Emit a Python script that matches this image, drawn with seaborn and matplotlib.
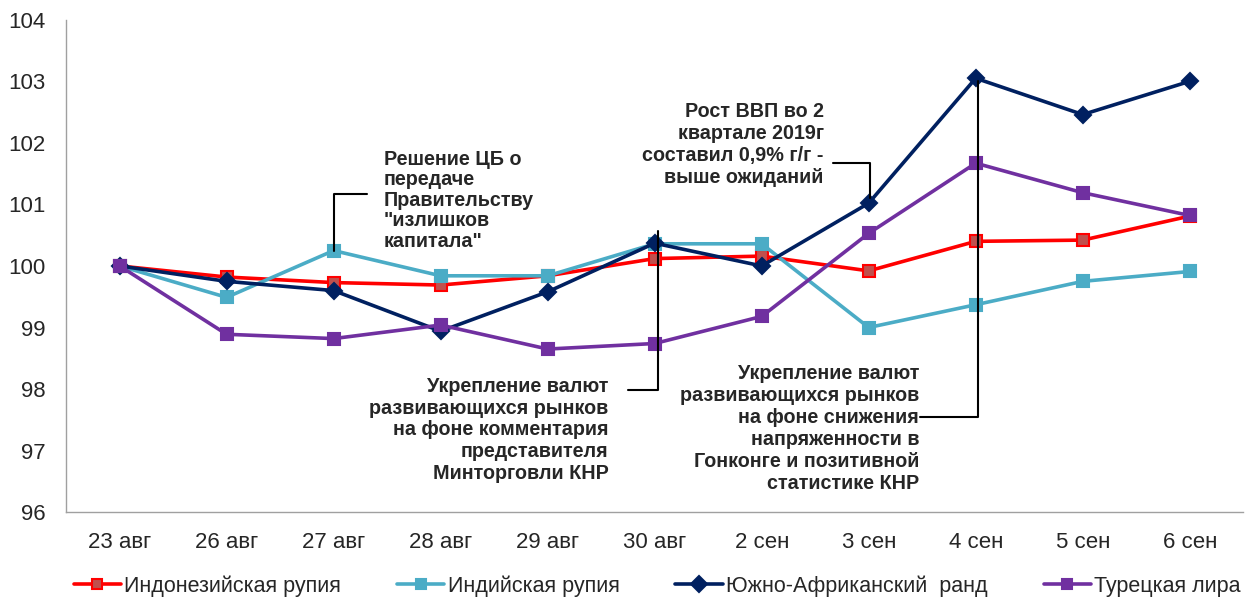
import matplotlib
matplotlib.use("Agg")
import matplotlib.pyplot as plt
import seaborn as sns
import pandas as pd

categories = ["23 авг", "26 авг", "27 авг", "28 авг", "29 авг", "30 авг",
              "2 сен", "3 сен", "4 сен", "5 сен", "6 сен"]
idr = [100.0, 99.82, 99.73, 99.69, 99.84, 100.12, 100.16, 99.92, 100.40, 100.42, 100.81]
inr = [100.0, 99.49, 100.25, 99.84, 99.84, 100.36, 100.36, 99.00, 99.37, 99.75, 99.91]
zar = [100.0, 99.75, 99.60, 98.94, 99.58, 100.37, 100.00, 101.02, 103.05, 102.46, 103.00]
tryl = [100.0, 98.89, 98.82, 99.04, 98.65, 98.74, 99.18, 100.53, 101.67, 101.19, 100.82]
series_names = ["Индонезийская рупия", "Индийская рупия", "Южно-Африканский  ранд", "Турецкая лира"]
y_ticks = [96, 97, 98, 99, 100, 101, 102, 103, 104]

sns.set_style("white")
plt.rcParams['font.family'] = ['Liberation Sans', 'DejaVu Sans']

fig = plt.figure(figsize=(12.47, 5.99), dpi=100)
ax = fig.add_axes([0.053, 0.145, 0.944, 0.822])

pos = list(range(len(categories)))
styles = [
    (idr, "#FF0000", "s", "#C0504D", "#FF0000", 8.5),
    (inr, "#4BACC6", "s", "#4BACC6", "#4BACC6", 8.5),
    (zar, "#002060", "D", "#002060", "#002060", 8.5),
    (tryl, "#7030A0", "s", "#7030A0", "#7030A0", 8.5),
]
for (vals, col, mk, mfc, mec, ms), name in zip(styles, series_names):
    df = pd.DataFrame({"x": pos, "y": vals})
    sns.lineplot(data=df, x="x", y="y", ax=ax, color=col, lw=2.6, marker=mk,
                 markersize=ms, markerfacecolor=mfc, markeredgecolor=mec,
                 markeredgewidth=1.5, label=name)

ax.set_xlim(-0.5, len(categories) - 0.5)
ax.set_ylim(96, 104)
ax.set_yticks(y_ticks)
ax.set_yticklabels([str(t) for t in y_ticks], fontsize=16)
ax.set_xticks(pos)
ax.set_xticklabels(categories, fontsize=16)
ax.set_xticks([p + 0.5 for p in pos[:-1]] + [-0.5, len(categories) - 0.5], minor=True)
ax.tick_params(axis="x", which="major", length=0, pad=14)
ax.tick_params(axis="x", which="minor", length=5, color="#A0A0A0", width=1, direction="out")
ax.tick_params(axis="y", length=5, color="#A0A0A0", width=1, direction="out", pad=10)
ax.set_xlabel("")
ax.set_ylabel("")
for s in ["top", "right"]:
    ax.spines[s].set_visible(False)
for s in ["left", "bottom"]:
    ax.spines[s].set_color("#A0A0A0")
    ax.spines[s].set_linewidth(1)

# annotations
afs = 14.2
lc = "black"
lw = 1.5
ax.plot([2, 2, 2.31], [inr[2], 101.17, 101.17], color=lc, lw=lw)
ax.text(2.47, 101.89, "Решение ЦБ о\nпередаче\nПравительству\n\"излишков\nкапитала\"",
        fontsize=afs, fontweight="bold", ha="left", va="top", linespacing=1.1)

ax.plot([5.03, 5.03, 4.75], [100.57, 97.99, 97.99], color=lc, lw=lw)
ax.text(4.57, 98.2, "Укрепление валют\nразвивающихся рынков\nна фоне комментария\nпредставителя\nМинторговли КНР",
        fontsize=afs, fontweight="bold", ha="right", va="top", multialignment="right", linespacing=1.19)

ax.plot([6.67, 7.01, 7.01], [101.67, 101.67, 101.1], color=lc, lw=lw)
ax.text(6.58, 102.66, "Рост ВВП во 2\nквартале 2019г\nсоставил 0,9% г/г -\nвыше ожиданий",
        fontsize=afs, fontweight="bold", ha="right", va="top", multialignment="right", linespacing=1.19)

ax.plot([8.02, 8.02, 7.48], [103.0, 97.54, 97.54], color=lc, lw=lw)
ax.text(7.47, 98.4, "Укрепление валют\nразвивающихся рынков\nна фоне снижения\nнапряженности в\nГонконге и позитивной\nстатистике КНР",
        fontsize=afs, fontweight="bold", ha="right", va="top", multialignment="right", linespacing=1.19)

ax.legend(loc="center", bbox_to_anchor=(0.527, 0.022), bbox_transform=fig.transFigure,
          ncol=4, frameon=False, fontsize=15.5, handlelength=2.2, columnspacing=2.6,
          handletextpad=0.15, markerscale=0.9)

fig.savefig("out.png", dpi=100)
